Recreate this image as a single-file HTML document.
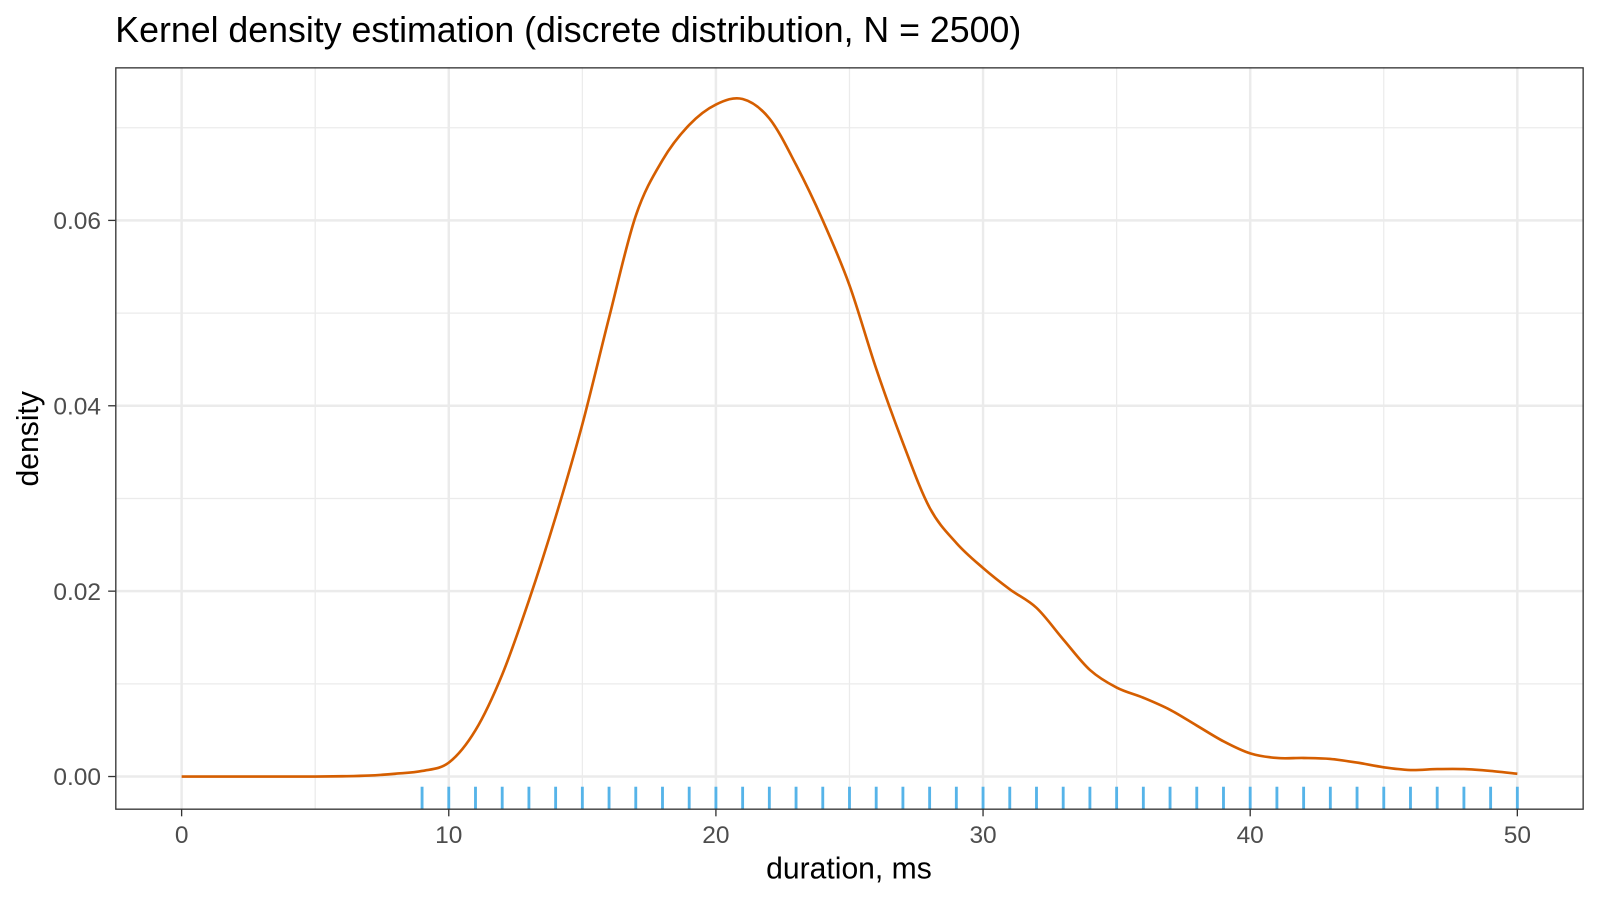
<!DOCTYPE html>
<html><head><meta charset="utf-8"><style>
html,body{margin:0;padding:0;background:#fff;}
svg text{font-family:"Liberation Sans",Arial,sans-serif;}
</style></head><body>
<svg id="chart" width="1600" height="900" viewBox="0 0 1600 900" xmlns="http://www.w3.org/2000/svg">
<g transform="scale(1.0204)">
<text x="113" y="41" font-size="35" fill="#000">Kernel density estimation (discrete distribution, N = 2500)</text>
<g id="grid"></g>
<g id="axes"></g>
<path id="curve" fill="none" stroke="#D55E00" stroke-width="2.6"/>
<g id="rug"></g>
<rect x="113.5" y="66.5" width="1438" height="726.5" fill="none" stroke="#333" stroke-width="1.3"/>
<text x="832" y="861" font-size="29.5" text-anchor="middle">duration, ms</text>
<text transform="translate(37,430) rotate(-90)" font-size="29.5" text-anchor="middle">density</text>
</g>
</svg>
<script>
const xs = [0,1,2,3,4,5,6,7,8,9,10,11,12,13,14,15,16,17,18,19,20,21,22,23,24,25,26,27,28,29,30,31,32,33,34,35,36,37,38,39,40,41,42,43,44,45,46,47,48,49,50];
const densities = [0,0,0,0,0,0,0.00003,0.0001,0.0003,0.0006,0.0015,0.005,0.011,0.019,0.028,0.038,0.0495,0.0605,0.0665,0.0703,0.0725,0.0731,0.071,0.066,0.060,0.053,0.044,0.036,0.029,0.0252,0.0225,0.0202,0.0182,0.0148,0.0115,0.0096,0.0085,0.0072,0.0055,0.0038,0.0025,0.002,0.002,0.0019,0.0015,0.001,0.0007,0.0008,0.0008,0.0006,0.0003];
const rugValues = [9,10,11,12,13,14,15,16,17,18,19,20,21,22,23,24,25,26,27,28,29,30,31,32,33,34,35,36,37,38,39,40,41,42,43,44,45,46,47,48,49,50];
const xTicks = [0,10,20,30,40,50];
const xMinor = [5,15,25,35,45];
const yTicks = [0,0.02,0.04,0.06];
const yTickLabels = ["0.00","0.02","0.04","0.06"];
const yMinor = [0.01,0.03,0.05,0.07];

const sx = v => 178 + v*(1487-178)/50;
const sy = v => 761 - v*(761-216)/0.06;
const NS="http://www.w3.org/2000/svg";
function mk(tag, attrs, parent){const e=document.createElementNS(NS,tag);for(const k in attrs)e.setAttribute(k,attrs[k]);parent.appendChild(e);return e;}
const grid=document.getElementById('grid'), axes=document.getElementById('axes'), rug=document.getElementById('rug');
mk('rect',{x:113,y:66,width:1439,height:727,fill:'#fff'},grid);
xMinor.forEach(v=>{const l=mk('line',{x1:sx(v),x2:sx(v),y1:66,y2:793,stroke:'#EBEBEB','stroke-width':1.2},grid);

});
yMinor.forEach(v=>{const l=mk('line',{x1:113,x2:1552,y1:sy(v),y2:sy(v),stroke:'#EBEBEB','stroke-width':1.2},grid);

});
xTicks.forEach(v=>{const l=mk('line',{x1:sx(v),x2:sx(v),y1:66,y2:793,stroke:'#EBEBEB','stroke-width':2.4},grid);


mk('line',{x1:sx(v),x2:sx(v),y1:793,y2:800,stroke:'#333','stroke-width':1.3},axes);
const t=mk('text',{x:sx(v),y:826,'font-size':24,fill:'#4D4D4D','text-anchor':'middle'},axes);t.textContent=v;

});
yTicks.forEach((v,i)=>{const l=mk('line',{x1:113,x2:1552,y1:sy(v),y2:sy(v),stroke:'#EBEBEB','stroke-width':2.4},grid);


mk('line',{x1:106,x2:113,y1:sy(v),y2:sy(v),stroke:'#333','stroke-width':1.3},axes);
const t=mk('text',{x:99,y:sy(v)+8.5,'font-size':24,fill:'#4D4D4D','text-anchor':'end'},axes);t.textContent=yTickLabels[i];

});
const pts=xs.map((x,i)=>[sx(x),sy(densities[i])]);
let d='M'+pts[0][0]+','+pts[0][1];
for(let i=0;i<pts.length-1;i++){const p0=pts[Math.max(0,i-1)],p1=pts[i],p2=pts[i+1],p3=pts[Math.min(pts.length-1,i+2)];
d+=' C'+(p1[0]+(p2[0]-p0[0])/6)+','+(p1[1]+(p2[1]-p0[1])/6)+' '+(p2[0]-(p3[0]-p1[0])/6)+','+(p2[1]-(p3[1]-p1[1])/6)+' '+p2[0]+','+p2[1];}
document.getElementById('curve').setAttribute('d',d);
rugValues.forEach(v=>{const l=mk('line',{x1:sx(v),x2:sx(v),y1:771,y2:793,stroke:'#56B4E9','stroke-width':2.8},rug);

});
</script>
</body></html>
